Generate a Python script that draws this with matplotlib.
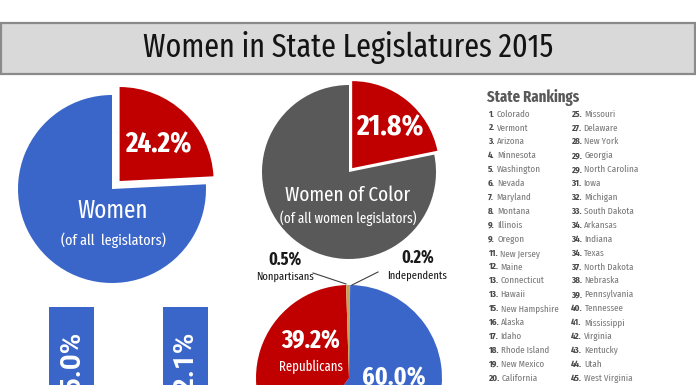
import matplotlib
matplotlib.use('Agg')
import matplotlib.pyplot as plt
from matplotlib.patches import Rectangle

W, H = 696, 385
FONT = ['Fira Sans Extra Condensed', 'DejaVu Sans']
plt.rcParams['font.family'] = FONT
BARFONT = ['Roboto', 'DejaVu Sans']

RED = '#c00000'
BLUE = '#3b66c9'
GRAY = '#595959'
TAN = '#c9a25a'
TAN2 = '#b9b06a'

title = "Women in State Legislatures 2015"

women_share = [24.2, 75.8]
color_share = [21.8, 78.2]
party_labels = ['Independents', 'Democrats', 'Republicans', 'Nonpartisans']
party_share = [0.2, 60.0, 39.2, 0.5]
chamber_share = [25.0, 22.1]

rank_left = [1, 2, 3, 4, 5, 6, 7, 8, 9, 9, 11, 12, 13, 13, 15, 16, 17, 18, 19, 20]
states_left = ['Colorado', 'Vermont', 'Arizona', 'Minnesota', 'Washington', 'Nevada',
               'Maryland', 'Montana', 'Illinois', 'Oregon', 'New Jersey', 'Maine',
               'Connecticut', 'Hawaii', 'New Hampshire', 'Alaska', 'Idaho',
               'Rhode Island', 'New Mexico', 'California']
rank_right = [25, 27, 28, 29, 29, 31, 32, 33, 34, 34, 34, 37, 38, 39, 40, 41, 42, 43, 44, 45]
states_right = ['Missouri', 'Delaware', 'New York', 'Georgia', 'North Carolina', 'Iowa',
                'Michigan', 'South Dakota', 'Arkansas', 'Indiana', 'Texas', 'North Dakota',
                'Nebraska', 'Pennsylvania', 'Tennessee', 'Mississippi', 'Virginia',
                'Kentucky', 'Utah', 'West Virginia']


def Y(y):
    return H - y


fig = plt.figure(figsize=(W / 100, H / 100), dpi=100)
ax = fig.add_axes([0, 0, 1, 1])

# Title box
ax.add_patch(Rectangle((0.5, Y(73.5)), W - 1.5, 51, facecolor='#d9d9d9',
                       edgecolor='#8a8a8a', linewidth=1.6, zorder=1))
ax.text(348, Y(47.5), title, ha='center', va='center', fontsize=23.5, color='#141414')

# Pie 1: women of all legislators
ax.pie(women_share, colors=[RED, BLUE], startangle=90, counterclock=False,
       center=(112, Y(189)), radius=94, explode=[11, 0], frame=True,
       wedgeprops=dict(linewidth=0))
ax.text(158, Y(144), f"{women_share[0]:.1f}%", ha='center', va='center',
        fontsize=21, fontweight='bold', color='white')
ax.text(113, Y(211), 'Women', ha='center', va='center', fontsize=18, color='white')
ax.text(113, Y(240), '(of all  legislators)', ha='center', va='center',
        fontsize=11, color='white')

# Pie 2: women of color
ax.pie(color_share, colors=[RED, GRAY], startangle=90, counterclock=False,
       center=(349, Y(172)), radius=87, explode=[5, 0], frame=True,
       wedgeprops=dict(linewidth=0))
ax.text(390, Y(127), f"{color_share[0]:.1f}%", ha='center', va='center',
        fontsize=21.5, fontweight='bold', color='white')
ax.text(348, Y(195), 'Women of Color', ha='center', va='center', fontsize=15, color='white')
ax.text(348, Y(218), '(of all women legislators)', ha='center', va='center',
        fontsize=10.2, color='white')

# Pie 3: party
ax.pie(party_share, colors=[TAN2, BLUE, RED, TAN], startangle=90, counterclock=False,
       center=(349, Y(378)), radius=93, frame=True,
       wedgeprops=dict(linewidth=0))
ax.text(311, Y(341), f"{party_share[2]:.1f}%", ha='center', va='center',
        fontsize=18.5, fontweight='bold', color='white')
ax.text(311, Y(367), party_labels[2], ha='center', va='center', fontsize=10, color='white')
ax.text(394, Y(378), f"{party_share[1]:.1f}%", ha='center', va='center',
        fontsize=18.5, fontweight='bold', color='white')

ax.text(285, Y(259), f"{party_share[3]:.1f}%", ha='center', va='center',
        fontsize=12.5, fontweight='bold', color='#1a1a1a')
ax.text(285, Y(277), party_labels[3], ha='center', va='center', fontsize=8.2, color='#1a1a1a')
ax.plot([313, 346], [Y(273), Y(284)], color='#404040', lw=0.8)
ax.text(418, Y(257), f"{party_share[0]:.1f}%", ha='center', va='center',
        fontsize=12.5, fontweight='bold', color='#1a1a1a')
ax.text(417, Y(276), party_labels[0], ha='center', va='center', fontsize=8.2, color='#1a1a1a')
ax.plot([378, 352], [Y(272), Y(285)], color='#404040', lw=0.8)

# Chamber bars (cut off at bottom)
bar_x = [71.5, 185]
ax.bar(bar_x, [H - 307 + 20] * len(bar_x), width=45, bottom=-20, color=BLUE, linewidth=0)
for bx, v in zip(bar_x, chamber_share):
    ax.text(bx + 1, Y(332), f"{v:.1f}%", rotation=90, ha='center', va='top',
            fontsize=20, fontweight='bold', color='white', family=BARFONT)

# State rankings
ax.text(487, Y(98), 'State Rankings', ha='left', va='center', fontsize=11.5,
        fontweight='bold', color=GRAY)
row0, step = 114, 13.9
for colx, ranks, names in [(488, rank_left, states_left), (571, rank_right, states_right)]:
    for i, (r, n) in enumerate(zip(ranks, names)):
        t = ax.text(colx, Y(row0 + i * step), f"{r}.", ha='left', va='center',
                    fontsize=7, fontweight='bold', color='#4a4a4a')
        ax.annotate(n, xy=(1, 0.5), xycoords=t, xytext=(1.8, 0),
                    textcoords='offset points', ha='left', va='center',
                    fontsize=7, color='#7a7a7a')

ax.set_xlim(0, W)
ax.set_ylim(0, H)
ax.set_aspect('auto')
ax.set_axis_off()
fig.savefig('out.png', dpi=100, facecolor='white')
